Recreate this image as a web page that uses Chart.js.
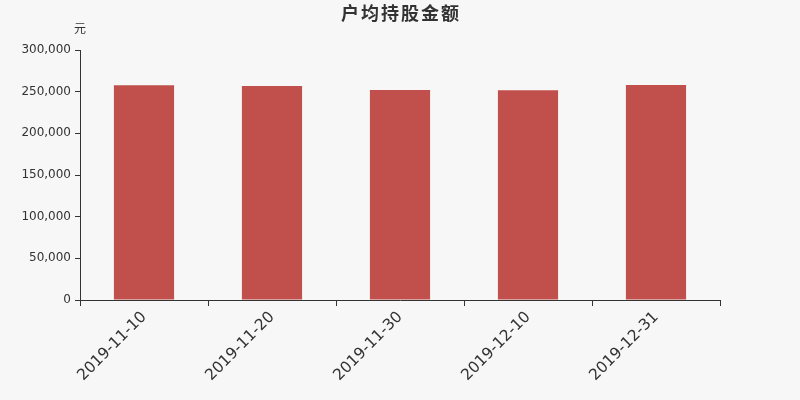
<!DOCTYPE html>
<html>
<head>
<meta charset="utf-8">
<script src="https://cdn.jsdelivr.net/npm/chart.js@4"></script>
<style>
html,body{margin:0;padding:0;background:#f7f7f7;}
#wrap{width:800px;height:400px;}
</style>
</head>
<body>
<div id="wrap"><canvas id="c" width="800" height="400"></canvas></div>
<script>
const categories = ['2019-11-10','2019-11-20','2019-11-30','2019-12-10','2019-12-31'];
const values = [257600, 256800, 252000, 251600, 258000];
const yTicks = [0, 50000, 100000, 150000, 200000, 250000, 300000];
const titleText = '户均持股金额';
const unitText = '元';

const bgPlugin = {
  id: 'bg',
  beforeDraw(chart) {
    const ctx = chart.ctx;
    ctx.save();
    ctx.fillStyle = '#f7f7f7';
    ctx.fillRect(0, 0, chart.width, chart.height);
    ctx.restore();
  },
  afterDraw(chart) {
    const ctx = chart.ctx;
    ctx.save();
    ctx.fillStyle = '#333333';
    ctx.textAlign = 'center';
    ctx.textBaseline = 'middle';
    ctx.font = 'bold 18px "Noto Sans CJK SC", sans-serif';
    try { ctx.letterSpacing = '2px'; } catch (e) {}
    ctx.fillText(titleText, 401, 13);
    try { ctx.letterSpacing = '0px'; } catch (e) {}
    ctx.font = '12px "Noto Sans CJK SC", sans-serif';
    ctx.fillText(unitText, chart.chartArea.left, 28);
    ctx.restore();
  }
};

new Chart(document.getElementById('c'), {
  type: 'bar',
  data: {
    labels: categories,
    datasets: [{
      data: values,
      backgroundColor: '#c1504d',
      barPercentage: 0.47,
      categoryPercentage: 1.0
    }]
  },
  options: {
    responsive: false,
    animation: false,
    devicePixelRatio: 1,
    layout: { padding: { left: 0, right: 80, top: 50, bottom: 0 } },
    plugins: { legend: { display: false }, tooltip: { enabled: false } },
    scales: {
      x: {
        afterFit(s) { s.height = 100; },
        grid: { display: true, drawOnChartArea: false, drawTicks: true, tickLength: 6, color: '#333', offset: true },
        border: { display: true, color: '#333', width: 1 },
        ticks: { minRotation: 45, maxRotation: 45, color: '#333', font: { family: 'DejaVu Sans', size: 15.5 }, padding: 2 }
      },
      y: {
        min: 0, max: 300000,
        afterFit(s) { s.width = 80; },
        afterBuildTicks(s) { s.ticks = yTicks.map(v => ({ value: v })); },
        grid: { display: true, drawOnChartArea: false, drawTicks: true, tickLength: 5, color: '#333' },
        border: { display: true, color: '#333', width: 1 },
        ticks: {
          color: '#333', font: { family: 'DejaVu Sans', size: 12 }, padding: 4,
          callback: v => v.toLocaleString('en-US')
        }
      }
    }
  },
  plugins: [bgPlugin]
});
</script>
</body>
</html>
